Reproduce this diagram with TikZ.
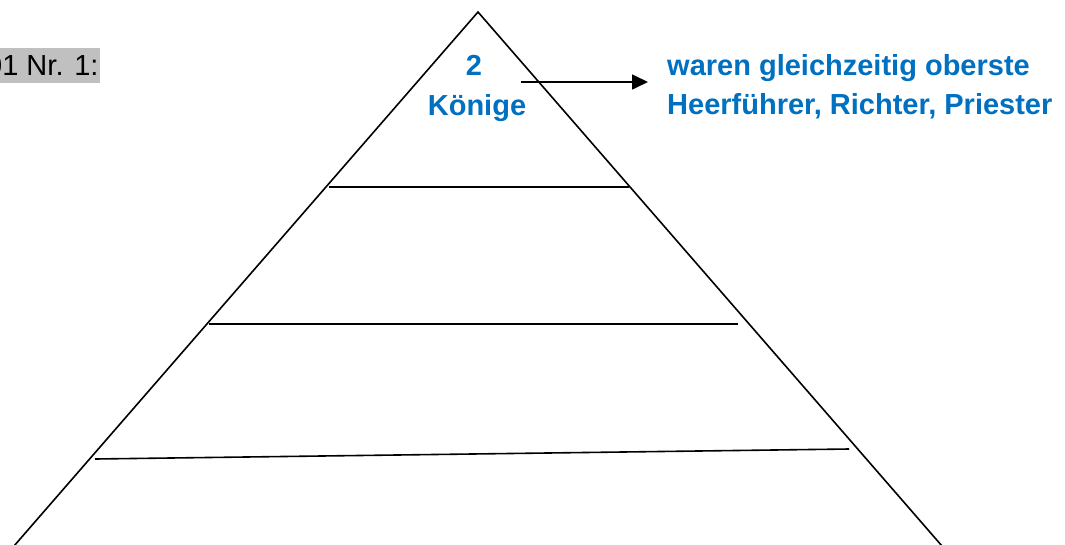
\documentclass[tikz,border=0pt]{standalone}
\usepackage{fontspec}
\setmainfont{Liberation Sans}
\usetikzlibrary{arrows.meta}
\definecolor{wordblue}{HTML}{0070C0}
\definecolor{markgray}{HTML}{C0C0C0}
\begin{document}
\begin{tikzpicture}[x=1pt,y=-1pt,
  edge/.style={line width=1.6pt,black},
  bluetext/.style={text=wordblue,font=\fontsize{29}{39}\selectfont\bfseries,inner sep=0pt},
  plain/.style={text=black,font=\fontsize{29}{39}\selectfont,inner sep=0pt}]
\useasboundingbox (0,0) rectangle (1065,544);
\clip (0,0) rectangle (1065,544);
% grey highlighted label
\fill[markgray] (0,48) rectangle (100,83);
\node[plain,anchor=base west] (lbl) at (-14,75) {01 Nr. 1:};
% pyramid
\coordinate (apex) at (478,12);
\coordinate (bl) at (14,546);
\coordinate (br) at (942,546);
\draw[edge] (bl) -- (apex) -- (br);
\coordinate (l1a) at (329,187); \coordinate (l1b) at (629,187);
\coordinate (l2a) at (209,324); \coordinate (l2b) at (738,324);
\coordinate (l3a) at (95,459);  \coordinate (l3b) at (849,449);
\draw[edge] (l1a) -- (l1b);
\draw[edge] (l2a) -- (l2b);
\draw[edge] (l3a) -- (l3b);
% texts
\node[bluetext,anchor=base] (two) at (474,75) {2};
\node[bluetext,anchor=base] (koenige) at (477,115) {Könige};
\node[bluetext,anchor=base west,align=left] (desc1) at (667,75) {waren gleichzeitig oberste};
\node[bluetext,anchor=base west,align=left] (desc2) at (667,114) {Heerführer, Richter, Priester};
% arrow
\coordinate (arrs) at (521,82);
\coordinate (arre) at (648,82);
\draw[edge,-{Triangle[length=16pt,width=15pt]}] (arrs) -- (arre);
\end{tikzpicture}
\end{document}
